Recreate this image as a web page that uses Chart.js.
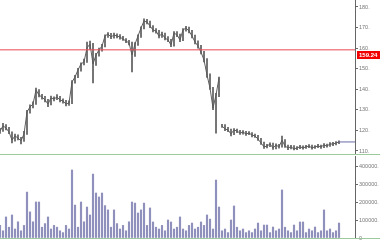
<!DOCTYPE html>
<html>
<head>
<meta charset="utf-8">
<script src="https://cdn.jsdelivr.net/npm/chart.js@4"></script>
<style>
  html, body { margin: 0; padding: 0; background: #fff; }
  #wrap { position: relative; width: 380px; height: 240px; }
  #top { position: absolute; left: 0; top: 0; width: 380px; height: 156px; }
  #bot { position: absolute; left: 0; top: 156px; width: 380px; height: 84px; }
</style>
</head>
<body>
<div id="wrap">
  <div id="top"><canvas id="priceChart"></canvas></div>
  <div id="bot"><canvas id="volChart"></canvas></div>
</div>
<script>
'use strict';

// --- Data ---
const closes = [119.7, 122.2, 121.2, 119.2, 115.3, 117.3, 116.3, 114.9, 118.3, 129.0,
  131.4, 132.8, 139.6, 137.2, 136.2, 134.8, 132.8, 135.8, 135.3, 136.2,
  134.8, 134.3, 132.8, 133.3, 143.5, 146.0, 149.4, 152.3, 153.3, 160.1,
  162.0, 152.3, 156.7, 159.1, 161.0, 165.9, 166.9, 165.4, 166.4, 165.9,
  165.4, 164.4, 163.5, 162.5, 156.7, 162.0, 165.9, 169.8, 173.2, 172.7,
  170.8, 168.8, 168.3, 165.9, 166.9, 164.9, 164.0, 161.5, 167.4, 166.4,
  164.0, 168.8, 169.8, 168.3, 165.9, 163.0, 161.0, 158.1, 154.2, 146.9,
  140.6, 130.9, 137.2, 145.5, 122.2, 120.7, 120.2, 118.3, 120.2, 119.7,
  118.7, 119.2, 118.3, 118.7, 117.8, 117.3, 115.8, 113.9, 112.0, 112.4,
  113.4, 111.5, 112.9, 112.0, 115.3, 112.4, 111.5, 112.0, 111.0, 111.5,
  112.0, 111.5, 112.0, 112.4, 111.5, 112.0, 112.4, 112.0, 112.9, 112.4,
  113.4, 113.4, 113.9, 114.4];
const highs = [121.0, 123.5, 122.8, 121.5, 119.3, 118.2, 117.9, 116.6, 119.6, 129.8,
  132.4, 133.9, 140.6, 139.9, 137.6, 136.6, 135.1, 136.7, 136.3, 137.4,
  136.6, 135.4, 134.6, 134.4, 144.2, 146.8, 150.2, 152.9, 154.7, 163.0,
  163.4, 162.3, 157.5, 160.0, 161.8, 166.5, 167.6, 167.2, 167.3, 166.9,
  166.6, 165.7, 164.6, 163.8, 163.0, 162.7, 166.5, 170.4, 174.2, 174.0,
  173.2, 171.0, 169.5, 168.6, 167.8, 167.3, 165.6, 164.3, 168.0, 168.1,
  166.8, 169.5, 170.6, 170.2, 168.6, 166.3, 163.6, 161.4, 158.5, 154.9,
  147.5, 141.0, 138.0, 145.9, 123.0, 122.8, 121.5, 120.6, 120.9, 120.6,
  120.1, 119.9, 119.6, 119.4, 119.0, 118.2, 117.6, 116.2, 114.3, 113.2,
  114.0, 113.8, 113.5, 113.3, 117.3, 115.6, 112.9, 112.8, 112.6, 112.2,
  112.8, 112.5, 112.7, 113.1, 112.9, 112.6, 113.2, 112.9, 113.6, 113.4,
  114.1, 114.2, 114.6, 115.0];
const lows = [118.5, 119.5, 120.2, 118.4, 113.9, 114.8, 115.4, 113.5, 114.6, 118.0,
  128.4, 130.9, 132.6, 136.3, 135.2, 133.9, 131.5, 132.4, 134.4, 134.9,
  133.8, 133.2, 131.9, 132.2, 133.0, 143.0, 145.6, 148.8, 151.8, 153.0,
  159.4, 143.1, 151.6, 156.1, 158.5, 160.6, 165.2, 164.6, 164.9, 165.0,
  164.4, 163.8, 162.7, 161.6, 148.4, 156.0, 161.3, 165.2, 169.3, 171.8,
  169.9, 167.9, 167.3, 165.0, 165.2, 164.0, 163.1, 160.7, 161.0, 165.6,
  163.2, 163.6, 168.2, 167.4, 165.0, 162.1, 160.0, 157.2, 153.3, 145.8,
  139.9, 130.1, 118.7, 136.4, 121.4, 119.9, 119.4, 117.3, 117.9, 118.9,
  118.0, 118.2, 117.6, 117.9, 116.9, 116.6, 115.1, 113.2, 111.3, 111.5,
  112.1, 110.8, 111.0, 111.4, 111.8, 111.7, 110.7, 111.0, 110.5, 110.7,
  111.1, 110.9, 111.2, 111.6, 110.9, 111.2, 111.6, 111.3, 111.6, 111.8,
  112.2, 112.6, 113.0, 113.6];
const volumes = [70000, 40000, 117000, 60000, 128000, 50000, 90000, 40000, 70000, 255000,
  145000, 90000, 200000, 200000, 60000, 80000, 117000, 50000, 70000, 60000,
  40000, 30000, 70000, 50000, 378000, 183000, 60000, 200000, 90000, 172000,
  128000, 355000, 250000, 228000, 250000, 180000, 156000, 60000, 156000, 80000,
  50000, 70000, 40000, 90000, 200000, 194000, 139000, 156000, 194000, 70000,
  167000, 89000, 60000, 50000, 70000, 40000, 100000, 89000, 50000, 60000,
  117000, 50000, 40000, 70000, 83000, 50000, 60000, 89000, 70000, 128000,
  105000, 50000, 322000, 172000, 40000, 50000, 30000, 100000, 178000, 60000,
  40000, 50000, 30000, 40000, 30000, 50000, 83000, 40000, 72000, 72000,
  30000, 61000, 40000, 50000, 267000, 60000, 40000, 30000, 72000, 40000,
  89000, 89000, 30000, 50000, 40000, 61000, 30000, 40000, 156000, 40000,
  50000, 30000, 40000, 83000];
const refLevel = 159.24;
const priceTickValues = [110, 120, 130, 140, 150, 160, 170, 180];
const volTickValues = [0, 100000, 200000, 300000, 400000];

// --- Layout helpers ---
const X_MAX = 118.33;
const tickFont = { size: 5.5, family: 'Liberation Sans' };

function fixAxis(s) {
  s.width = 25;
  s.paddingTop = 0;
  s.paddingBottom = 0;
}

// green frame line at bottom of each panel
const bottomLine = {
  id: 'bottomLine',
  beforeDatasetsDraw(chart) {
    const { ctx, chartArea } = chart;
    ctx.save();
    ctx.strokeStyle = '#9dca9d';
    ctx.lineWidth = 1;
    ctx.beginPath();
    ctx.moveTo(0, chartArea.bottom + 0.5);
    ctx.lineTo(chart.width, chartArea.bottom + 0.5);
    ctx.stroke();
    ctx.restore();
  }
};

// red price tag on the axis
const priceTag = {
  id: 'priceTag',
  afterDraw(chart) {
    const { ctx, chartArea, scales } = chart;
    const py = Math.round(scales.y.getPixelForValue(refLevel));
    ctx.save();
    ctx.fillStyle = '#f00000';
    ctx.fillRect(chartArea.right + 2, py + 1, chart.width - chartArea.right - 2, 8);
    ctx.fillStyle = '#fff';
    ctx.font = 'bold 6px Liberation Sans';
    ctx.textBaseline = 'middle';
    ctx.fillText(refLevel.toFixed(2), chartArea.right + 4, py + 5.5);
    ctx.restore();
  }
};

function axisY(min, max, values, label) {
  return {
    position: 'right',
    min: min,
    max: max,
    afterFit: fixAxis,
    afterBuildTicks: s => { s.ticks = values.map(v => ({ value: v })); },
    border: { color: '#666' },
    grid: { drawOnChartArea: false, tickLength: 3, color: '#666' },
    ticks: { autoSkip: false, padding: 1, color: '#777', font: tickFont, callback: label }
  };
}

const xAxis = { type: 'linear', min: 0, max: X_MAX, offset: false, display: false };

// --- Price panel ---
new Chart(document.getElementById('priceChart').getContext('2d'), {
  data: {
    datasets: [
      {
        type: 'line',
        data: [{ x: 0, y: refLevel }, { x: X_MAX, y: refLevel }],
        borderColor: 'rgba(232, 80, 92, 0.7)',
        borderWidth: 1.5,
        pointRadius: 0
      },
      {
        type: 'line',
        data: [{ x: closes.length - 1, y: closes[closes.length - 1] }, { x: X_MAX, y: closes[closes.length - 1] }],
        borderColor: '#6a6aaa',
        borderWidth: 1,
        pointRadius: 0
      },
      {
        type: 'bar',
        data: highs.map((h, i) => ({ x: i, y: [lows[i], h] })),
        backgroundColor: '#5a5a5a',
        barThickness: 1
      },
      {
        type: 'line',
        data: closes.map((c, i) => ({ x: i, y: c })),
        borderColor: '#606060',
        borderWidth: 1,
        pointRadius: 0,
        tension: 0,
        segment: {
          borderColor: ctx => Math.abs(ctx.p1.parsed.y - ctx.p0.parsed.y) > 15 ? 'transparent' : '#606060'
        }
      }
    ]
  },
  options: {
    responsive: true,
    maintainAspectRatio: false,
    animation: false,
    layout: { padding: { left: 0, right: 0, top: 0, bottom: 2 } },
    plugins: { legend: { display: false }, tooltip: { enabled: false } },
    scales: {
      x: xAxis,
      y: axisY(108.54, 183.4, priceTickValues, v => v + '.')
    }
  },
  plugins: [bottomLine, priceTag]
});

// --- Volume panel ---
new Chart(document.getElementById('volChart').getContext('2d'), {
  type: 'bar',
  data: {
    datasets: [{
      data: volumes.map((v, i) => ({ x: i, y: v })),
      backgroundColor: '#9090bc',
      barThickness: 1.5
    }]
  },
  options: {
    responsive: true,
    maintainAspectRatio: false,
    animation: false,
    layout: { padding: { left: 0, right: 0, top: 0, bottom: 2 } },
    plugins: { legend: { display: false }, tooltip: { enabled: false } },
    scales: {
      x: xAxis,
      y: axisY(0, 455556, volTickValues, v => v === 0 ? '0' : v + '.')
    }
  },
  plugins: [bottomLine]
});
</script>
</body>
</html>
